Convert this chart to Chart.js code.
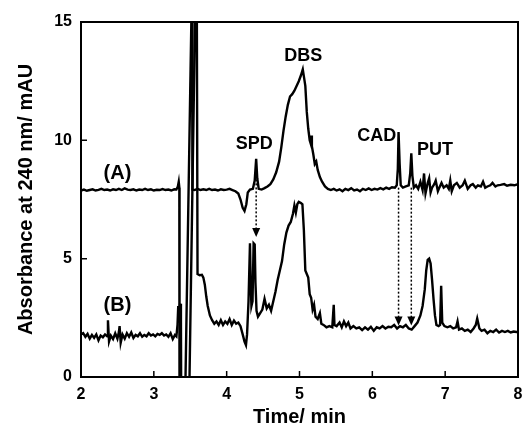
<!DOCTYPE html>
<html>
<head>
<meta charset="utf-8">
<script src="https://cdn.jsdelivr.net/npm/chart.js@4/dist/chart.umd.min.js"></script>
<style>
html,body{margin:0;padding:0;background:#fff;}
#wrap{width:525px;height:431px;position:relative;}
</style>
</head>
<body>
<div id="wrap"><canvas id="c" width="525" height="431"></canvas></div>
<script>
// ---- data (time in min, absorbance in mAU) ----
const traceA = [
[2.00,7.88],[2.04,7.92],[2.08,7.87],[2.12,7.9],[2.16,7.93],[2.2,7.88],[2.24,7.91],[2.28,7.95],[2.32,7.9],[2.36,7.92],[2.4,7.88],[2.44,7.93],[2.48,7.9],[2.52,7.95],[2.56,7.9],[2.6,7.97],[2.64,7.92],[2.68,7.9],[2.72,7.93],[2.76,7.88],[2.8,7.92],[2.84,7.9],[2.88,7.95],[2.92,7.9],[2.96,7.93],[3.0,7.88],[3.04,7.91],[3.08,7.9],[3.12,7.94],[3.16,7.9],[3.2,7.92],[3.24,7.88],[3.28,7.93],[3.31,7.92],[3.33,8.05],[3.342,8.25],[3.35,8.0],[3.353,-3],[3.43,-3],[3.435,0],[3.515,15],[3.52,16],[3.525,16],[3.53,7.92],[3.56,7.9],[3.6,7.95],[3.64,7.9],[3.68,7.93],[3.72,7.9],[3.76,7.95],[3.8,7.9],[3.84,7.92],[3.88,7.88],[3.92,7.93],[3.96,7.9],[4.0,7.92],[4.04,7.95],[4.08,7.9],[4.12,7.85],[4.16,7.75],[4.19,7.5],[4.22,7.15],[4.245,7.02],[4.27,7.3],[4.29,7.8],[4.32,7.92],[4.36,7.95],[4.385,8.3],[4.405,9.22],[4.42,8.4],[4.44,7.95],[4.48,7.92],[4.52,7.98],[4.56,8.05],[4.6,8.15],[4.64,8.35],[4.68,8.65],[4.72,9.1],[4.75,9.7],[4.78,10.4],[4.81,11.0],[4.84,11.5],[4.87,11.85],[4.9,11.95],[4.93,12.1],[4.96,12.3],[4.99,12.5],[5.02,12.75],[5.045,13.0],[5.06,12.7],[5.08,12.3],[5.1,11.2],[5.12,10.5],[5.14,10.0],[5.15,9.9],[5.16,10.2],[5.17,9.75],[5.19,9.4],[5.21,9.0],[5.23,9.1],[5.25,8.75],[5.28,8.45],[5.31,8.25],[5.35,8.05],[5.39,7.95],[5.43,7.9],[5.47,7.95],[5.51,7.88],[5.55,7.93],[5.59,7.85],[5.63,7.95],[5.67,7.9],[5.71,7.98],[5.75,7.88],[5.79,7.92],[5.83,7.85],[5.87,7.95],[5.91,7.9],[5.95,7.97],[5.99,7.9],[6.03,7.95],[6.07,7.92],[6.11,7.98],[6.15,7.93],[6.19,8.0],[6.23,7.95],[6.27,8.02],[6.31,8.0],[6.335,8.1],[6.35,8.8],[6.36,10.35],[6.375,9.0],[6.39,8.1],[6.42,8.0],[6.46,8.05],[6.5,8.1],[6.52,8.6],[6.535,9.45],[6.55,8.5],[6.57,8.0],[6.6,8.1],[6.63,7.95],[6.66,8.25],[6.69,7.9],[6.71,8.6],[6.73,7.76],[6.76,8.2],[6.78,8.4],[6.8,7.8],[6.82,8.0],[6.85,8.15],[6.87,8.3],[6.9,7.85],[6.92,8.0],[6.95,8.2],[6.98,8.0],[7.02,8.1],[7.05,7.95],[7.07,8.3],[7.09,7.85],[7.12,8.1],[7.16,8.2],[7.2,8.0],[7.24,8.1],[7.27,8.3],[7.31,7.95],[7.35,8.1],[7.38,8.15],[7.42,8.0],[7.45,8.1],[7.49,8.05],[7.52,8.25],[7.55,8.0],[7.58,8.05],[7.62,8.1],[7.65,8.2],[7.69,8.05],[7.72,8.1],[7.76,8.12],[7.81,8.15],[7.85,8.08],[7.9,8.12],[7.95,8.1],[8.0,8.15]
];
const traceB = [
[2.0,1.8],[2.03,1.85],[2.06,1.7],[2.09,1.82],[2.12,1.62],[2.15,1.78],[2.18,1.65],[2.21,1.8],[2.24,1.55],[2.27,1.75],[2.3,1.68],[2.33,1.8],[2.36,1.72],[2.37,2.4],[2.385,1.5],[2.41,1.75],[2.44,1.6],[2.47,1.85],[2.5,1.62],[2.52,1.9],[2.53,2.15],[2.545,1.45],[2.57,1.8],[2.6,1.62],[2.63,1.85],[2.66,1.7],[2.69,1.88],[2.72,1.65],[2.75,1.78],[2.78,1.72],[2.81,1.85],[2.84,1.7],[2.87,1.78],[2.9,1.72],[2.93,1.85],[2.96,1.75],[2.99,1.8],[3.02,1.72],[3.05,1.82],[3.08,1.78],[3.11,1.85],[3.14,1.75],[3.17,1.8],[3.2,1.7],[3.23,1.85],[3.26,1.6],[3.29,1.78],[3.31,1.72],[3.325,2.2],[3.335,3.0],[3.345,2.3],[3.36,3.1],[3.372,2.5],[3.378,-3],[3.485,-3],[3.49,0],[3.565,15],[3.57,16],[3.59,16],[3.6,4.35],[3.63,4.3],[3.66,4.32],[3.68,4.2],[3.7,3.9],[3.72,3.4],[3.74,3.0],[3.77,2.6],[3.8,2.4],[3.83,2.25],[3.86,2.35],[3.89,2.2],[3.92,2.4],[3.95,2.2],[3.98,2.35],[4.01,2.25],[4.04,2.45],[4.07,2.2],[4.1,2.38],[4.13,2.25],[4.16,2.3],[4.19,2.15],[4.22,1.8],[4.245,1.5],[4.265,1.35],[4.28,1.8],[4.3,3.2],[4.32,5.65],[4.33,4.0],[4.34,3.0],[4.355,3.2],[4.37,5.65],[4.385,5.6],[4.395,4.0],[4.41,2.8],[4.43,2.55],[4.46,2.7],[4.49,2.85],[4.52,3.3],[4.55,2.9],[4.58,3.05],[4.61,2.8],[4.64,3.2],[4.67,3.6],[4.7,4.1],[4.73,4.5],[4.76,4.9],[4.79,5.6],[4.82,6.1],[4.85,6.4],[4.88,6.55],[4.91,6.9],[4.93,7.25],[4.95,6.95],[4.97,7.3],[4.99,7.4],[5.02,7.35],[5.04,7.3],[5.06,6.2],[5.08,4.5],[5.1,4.35],[5.12,4.2],[5.14,3.5],[5.16,3.35],[5.18,2.85],[5.2,3.05],[5.22,2.55],[5.25,2.45],[5.28,2.7],[5.3,2.25],[5.33,2.2],[5.37,2.1],[5.41,2.15],[5.45,2.1],[5.47,3.05],[5.48,2.2],[5.51,2.15],[5.55,2.3],[5.58,2.1],[5.61,2.35],[5.64,2.15],[5.67,2.3],[5.7,2.05],[5.74,2.15],[5.78,2.05],[5.82,2.1],[5.86,1.98],[5.9,2.1],[5.94,2.0],[5.98,2.12],[6.02,1.95],[6.06,2.1],[6.1,2.05],[6.14,2.15],[6.18,2.05],[6.22,2.12],[6.26,2.1],[6.3,2.2],[6.34,2.05],[6.38,2.15],[6.42,2.1],[6.46,2.2],[6.5,2.05],[6.54,2.0],[6.58,2.15],[6.62,2.3],[6.66,2.6],[6.69,3.0],[6.72,3.7],[6.74,4.5],[6.76,4.95],[6.78,5.0],[6.8,4.8],[6.82,4.1],[6.84,3.3],[6.86,2.6],[6.88,2.2],[6.91,2.15],[6.93,2.2],[6.945,3.85],[6.96,2.3],[6.99,2.15],[7.03,2.1],[7.07,2.15],[7.11,2.05],[7.15,2.1],[7.17,2.35],[7.19,2.0],[7.23,2.05],[7.27,1.95],[7.31,2.0],[7.35,1.9],[7.39,2.05],[7.42,2.2],[7.44,2.47],[7.47,2.05],[7.5,1.95],[7.54,2.0],[7.58,1.85],[7.62,1.95],[7.66,1.9],[7.7,2.0],[7.74,1.88],[7.78,1.95],[7.82,1.9],[7.86,1.95],[7.9,1.88],[7.94,1.92],[7.98,1.9],[8.0,1.9]
];
const xTicks = [2, 3, 4, 5, 6, 7, 8];
const yTicks = [0, 5, 10, 15];
const xTitle = 'Time/ min';
const yTitle = 'Absorbance at 240 nm/ mAU';
// annotation texts and their anchor values (time, absorbance)
const peakLabels = ['SPD', 'DBS', 'CAD', 'PUT'];
const peakLabelX = [4.38, 5.05, 6.06, 6.86];
const peakLabelY = [9.83, 13.57, 10.2, 9.57];
const traceLabels = ['(A)', '(B)'];
const traceLabelX = [2.50, 2.50];
const traceLabelY = [8.61, 3.03];
// dotted arrows: time, start absorbance, end absorbance
const arrowX = [4.405, 6.36, 6.535];
const arrowFrom = [8.35, 8.0, 8.0];
const arrowTo = [5.92, 2.18, 2.18];

const FONT = '"Liberation Sans", Arial, Helvetica, sans-serif';

const decor = {
  id: 'decor',
  afterDatasetsDraw(chart) {
    const ctx = chart.ctx, xs = chart.scales.x, ys = chart.scales.y, a = chart.chartArea;
    ctx.save();
    for (let i = 0; i < arrowX.length; i++) {
      const px = xs.getPixelForValue(arrowX[i]);
      const y0 = ys.getPixelForValue(arrowFrom[i]);
      const y1 = ys.getPixelForValue(arrowTo[i]);
      ctx.strokeStyle = '#000';
      ctx.lineWidth = 1.5;
      ctx.setLineDash([2, 2]);
      ctx.beginPath(); ctx.moveTo(px, y0); ctx.lineTo(px, y1 - 8); ctx.stroke();
      ctx.setLineDash([]);
      ctx.fillStyle = '#000';
      ctx.beginPath(); ctx.moveTo(px - 4, y1 - 9); ctx.lineTo(px + 4, y1 - 9); ctx.lineTo(px, y1); ctx.closePath(); ctx.fill();
    }
    ctx.fillStyle = '#000';
    ctx.textAlign = 'center'; ctx.textBaseline = 'middle';
    ctx.font = 'bold 18px ' + FONT;
    for (let i = 0; i < peakLabels.length; i++) {
      ctx.fillText(peakLabels[i], xs.getPixelForValue(peakLabelX[i]), ys.getPixelForValue(peakLabelY[i]));
    }
    ctx.font = 'bold 20px ' + FONT;
    for (let i = 0; i < traceLabels.length; i++) {
      ctx.fillText(traceLabels[i], xs.getPixelForValue(traceLabelX[i]), ys.getPixelForValue(traceLabelY[i]));
    }
    ctx.lineWidth = 2;
    ctx.strokeStyle = '#000';
    ctx.strokeRect(a.left, a.top, a.right - a.left, a.bottom - a.top);
    ctx.lineWidth = 1.5;
    ctx.beginPath();
    xTicks.forEach(v => { const p = xs.getPixelForValue(v); ctx.moveTo(p, a.bottom); ctx.lineTo(p, a.bottom - 6); });
    yTicks.forEach(v => { const p = ys.getPixelForValue(v); ctx.moveTo(a.left, p); ctx.lineTo(a.left + 6, p); });
    ctx.stroke();
    ctx.restore();
  }
};

const toXY = arr => arr.map(p => ({x: p[0], y: p[1]}));

new Chart(document.getElementById('c'), {
  type: 'line',
  data: {
    datasets: [
      {label: 'A', data: toXY(traceA), borderColor: '#000', borderWidth: 2.4, pointRadius: 0, tension: 0, fill: false},
      {label: 'B', data: toXY(traceB), borderColor: '#000', borderWidth: 2.4, pointRadius: 0, tension: 0, fill: false}
    ]
  },
  options: {
    responsive: false,
    animation: false,
    events: [],
    layout: {padding: {left: 0, right: 7, top: 22, bottom: 0}},
    plugins: {legend: {display: false}, tooltip: {enabled: false}},
    scales: {
      x: {
        type: 'linear', min: 2, max: 8,
        afterBuildTicks: s => { s.ticks = xTicks.map(v => ({value: v})); },
        afterFit: s => { s.height = 54; s.paddingLeft = 0; s.paddingRight = 0; },
        grid: {display: false, drawTicks: false},
        border: {display: false},
        ticks: {color: '#000', padding: 8, font: {family: FONT, size: 16, weight: 'bold'}},
        title: {display: true, text: xTitle, color: '#000', padding: {top: 0, bottom: 2}, font: {family: FONT, size: 20, weight: 'bold'}}
      },
      y: {
        type: 'linear', min: 0, max: 15,
        afterBuildTicks: s => { s.ticks = yTicks.map(v => ({value: v})); },
        afterFit: s => { s.width = 81; s.paddingTop = 0; s.paddingBottom = 0; },
        grid: {display: false, drawTicks: false},
        border: {display: false},
        ticks: {color: '#000', padding: 9, font: {family: FONT, size: 16, weight: 'bold'}},
        title: {display: true, text: yTitle, color: '#000', padding: {top: 14, bottom: 0}, font: {family: FONT, size: 20, weight: 'bold'}}
      }
    }
  },
  plugins: [decor]
});
</script>
</body>
</html>
